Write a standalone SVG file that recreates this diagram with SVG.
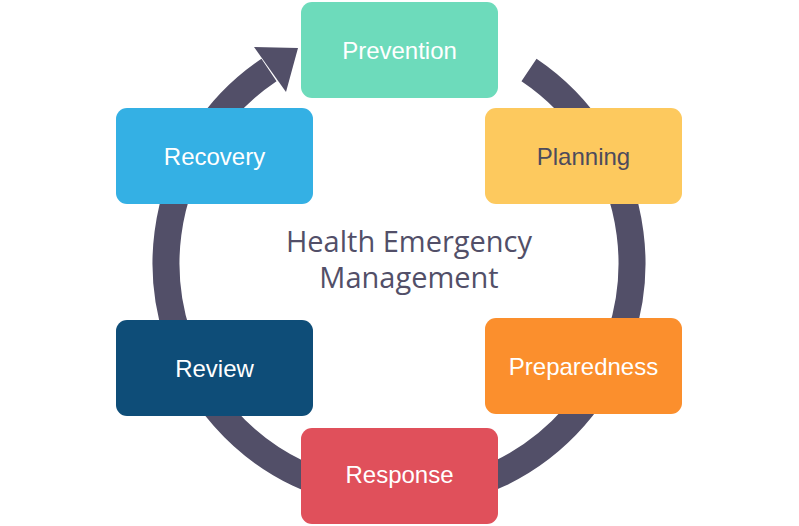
<svg xmlns="http://www.w3.org/2000/svg" width="799" height="526" viewBox="0 0 799 526">
<style>
.box{stroke:none}
.lbl{font-family:"Liberation Sans",Arial,sans-serif;font-size:24px;fill:#fff;text-anchor:middle;dominant-baseline:central}
.ctr{font-family:"Open Sans","Liberation Sans",sans-serif;font-size:29px;fill:#524f68;text-anchor:middle}
</style>
<rect width="799" height="526" fill="#fff"/>
<g id="connectors">
<path d="M529,70 A233,233 0 1 1 269,70" fill="none" stroke="#524f68" stroke-width="27"/>
<polygon points="298,48 286,92 254,47" fill="#524f68"/>
</g>
<g id="prevention"><rect class="box" x="301" y="2" width="197" height="96" rx="11" fill="#6ddbbb"/><text class="lbl" x="399.5" y="50">Prevention</text></g>
<g id="planning"><rect class="box" x="485" y="108" width="197" height="96" rx="11" fill="#fdc95e"/><text class="lbl" x="583.5" y="156" style="fill:#4d4b5c">Planning</text></g>
<g id="preparedness"><rect class="box" x="485" y="318" width="197" height="96" rx="11" fill="#fb8f2d"/><text class="lbl" x="583.5" y="366">Preparedness</text></g>
<g id="response"><rect class="box" x="301" y="428" width="197" height="96" rx="11" fill="#e0505b"/><text class="lbl" x="399.5" y="474">Response</text></g>
<g id="review"><rect class="box" x="116" y="320" width="197" height="96" rx="11" fill="#0e4d78"/><text class="lbl" x="214.5" y="368">Review</text></g>
<g id="recovery"><rect class="box" x="116" y="108" width="197" height="96" rx="11" fill="#34b0e4"/><text class="lbl" x="214.5" y="156">Recovery</text></g>
<g id="center"><text class="ctr" x="409" y="252">Health Emergency</text><text class="ctr" x="409" y="288">Management</text></g>
</svg>
